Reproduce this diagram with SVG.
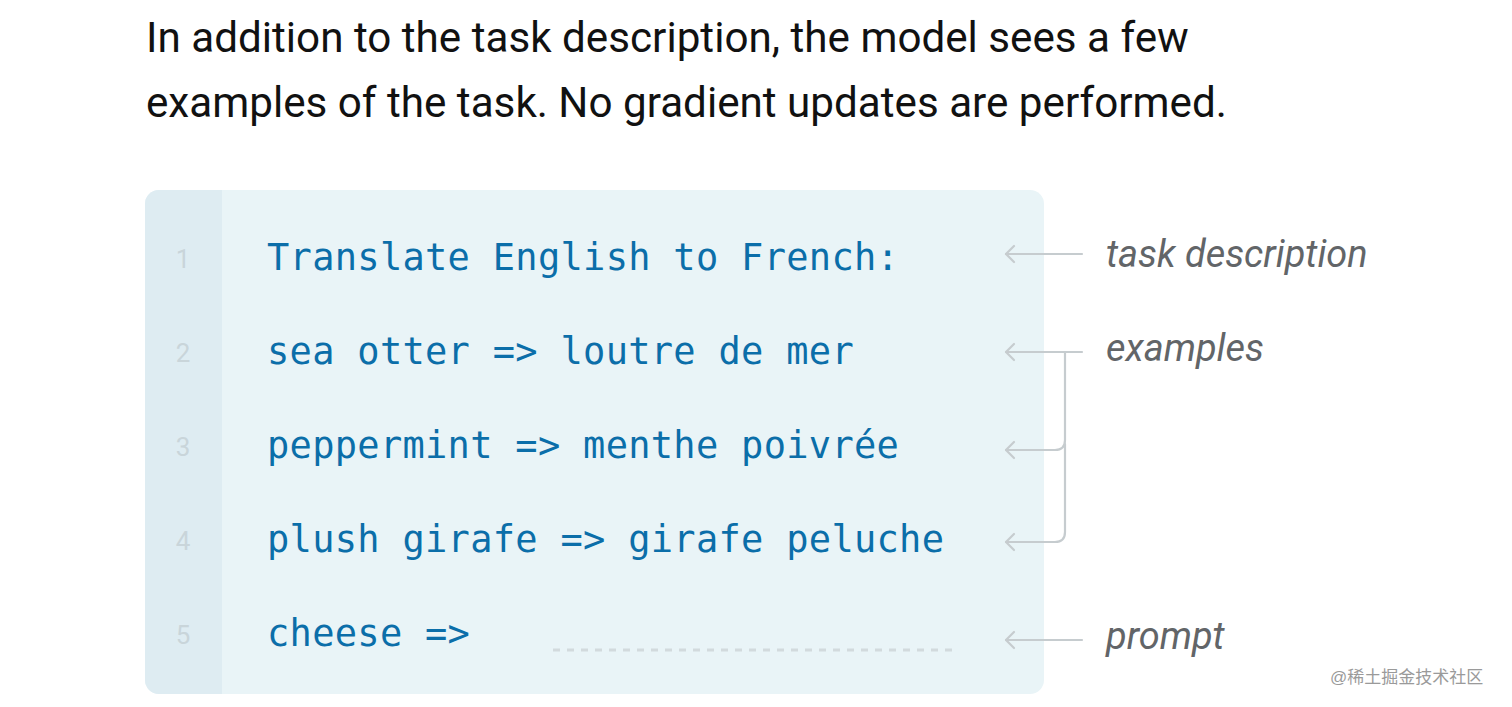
<svg xmlns="http://www.w3.org/2000/svg" width="1512" height="707" viewBox="0 0 1512 707">
<style>
.hdr{font-family:Roboto,"Liberation Sans",sans-serif;font-size:42.2px;fill:#111111}
.code{font-family:"DejaVu Sans Mono","Liberation Mono",monospace;font-size:37px;fill:#0b6ea9;letter-spacing:0.3px}
.num{font-family:Roboto,"Liberation Sans",sans-serif;font-size:26px;fill:#c9d5da;text-anchor:middle}
.lbl{font-family:Roboto,"Liberation Sans",sans-serif;font-style:italic;font-size:37.9px;fill:#626568}
.conn{fill:none;stroke:#c6cccf;stroke-width:2.2;stroke-linecap:round;stroke-linejoin:round}
.wm{font-family:"Liberation Sans","Noto Sans CJK SC",sans-serif;font-size:17px;fill:#9a9a9a}
</style>
<defs>
<marker id="ah" markerWidth="12" markerHeight="20" refX="10" refY="10" orient="auto" markerUnits="userSpaceOnUse">
<path d="M2,2 L10,10 L2,18" fill="none" stroke="#c6cccf" stroke-width="2.2" stroke-linecap="round" stroke-linejoin="round"/>
</marker>
<clipPath id="boxclip"><rect x="145" y="190" width="899" height="504" rx="14"/></clipPath>
</defs>
<rect width="1512" height="707" fill="#ffffff"/>
<g id="header">
<text class="hdr" x="146" y="52">In addition to the task description, the model sees a few</text>
<text class="hdr" x="146" y="117">examples of the task. No gradient updates are performed.</text>
</g>
<g id="codebox">
<g clip-path="url(#boxclip)">
<rect x="145" y="190" width="899" height="504" fill="#e9f4f7"/>
<rect x="145" y="190" width="77" height="504" fill="#deecf2"/>
</g>
<text class="num" x="183" y="268">1</text>
<text class="num" x="183" y="362">2</text>
<text class="num" x="183" y="456">3</text>
<text class="num" x="183" y="550">4</text>
<text class="num" x="183" y="644">5</text>
</g>
<g id="line1"><text class="code" x="267" y="270">Translate English to French:</text></g>
<g id="line2"><text class="code" x="267" y="364">sea otter =&gt; loutre de mer</text></g>
<g id="line3"><text class="code" x="267" y="458">peppermint =&gt; menthe poivrée</text></g>
<g id="line4"><text class="code" x="267" y="552">plush girafe =&gt; girafe peluche</text></g>
<g id="line5"><text class="code" x="267" y="646">cheese =&gt;</text>
<line x1="553" y1="650" x2="953" y2="650" stroke="#d2dadd" stroke-width="3" stroke-dasharray="7 7"/></g>
<g id="labels">
<text class="lbl" x="1106" y="267">task description</text>
<text class="lbl" x="1106" y="361">examples</text>
<text class="lbl" x="1106" y="649">prompt</text>
</g>
<g id="connectors">
<path class="conn" d="M1082,254 H1006" marker-end="url(#ah)"/>
<path class="conn" d="M1082,352 H1006" marker-end="url(#ah)"/>
<path class="conn" d="M1065,352 V440 Q1065,450 1055,450 H1006" marker-end="url(#ah)"/>
<path class="conn" d="M1065,444 V532 Q1065,542 1055,542 H1006" marker-end="url(#ah)"/>
<path class="conn" d="M1082,640 H1006" marker-end="url(#ah)"/>
</g>
<text class="wm" x="1330" y="683">@稀土掘金技术社区</text>
</svg>
